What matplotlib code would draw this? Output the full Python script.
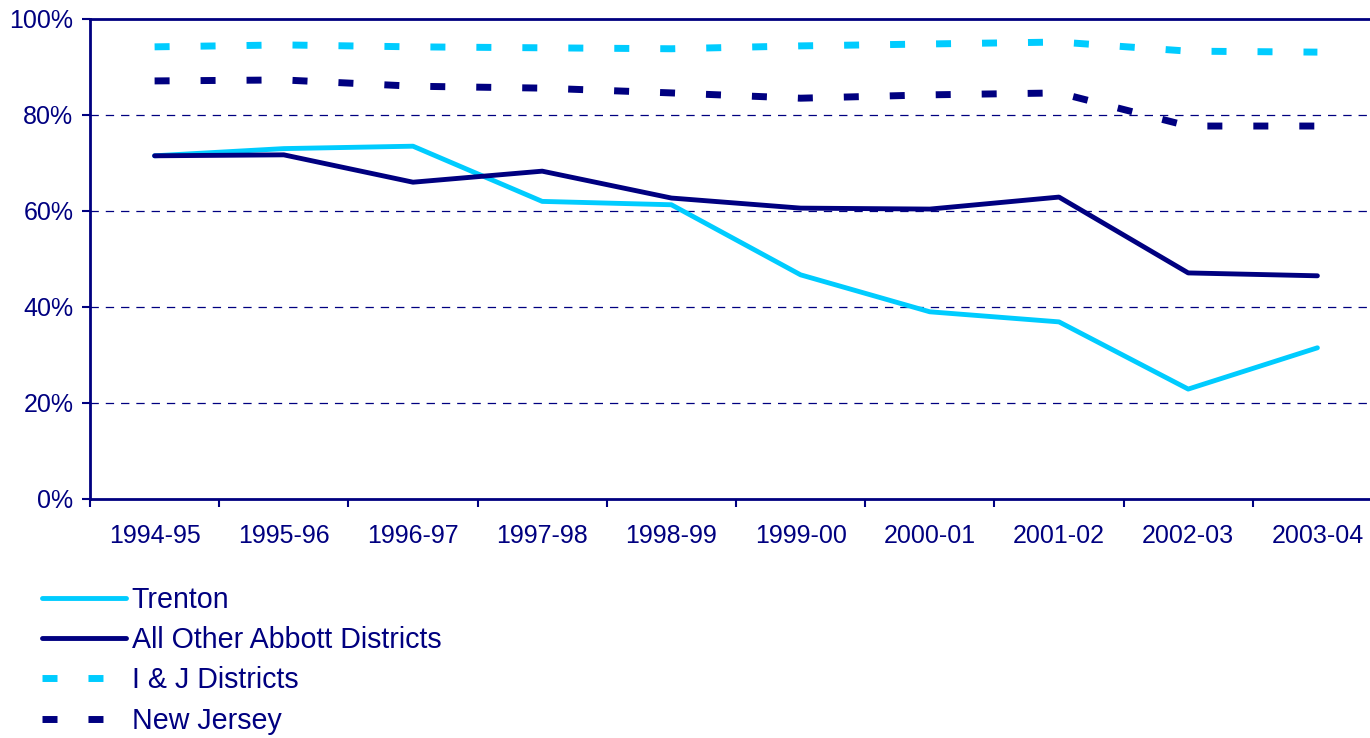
import matplotlib.pyplot as plt
import matplotlib.ticker as mticker

plt.rcParams['font.family'] = ['Liberation Sans', 'DejaVu Sans']
plt.rcParams['lines.scale_dashes'] = False

years = ['1994-95', '1995-96', '1996-97', '1997-98', '1998-99',
         '1999-00', '2000-01', '2001-02', '2002-03', '2003-04']
trenton = [71.5, 73.0, 73.5, 62.0, 61.3, 46.7, 39.0, 36.9, 22.9, 31.5]
abbott = [71.5, 71.7, 66.0, 68.3, 62.7, 60.6, 60.4, 62.9, 47.1, 46.5]
ij = [94.2, 94.6, 94.2, 94.0, 93.8, 94.4, 94.8, 95.2, 93.3, 93.1]
nj = [87.1, 87.3, 86.0, 85.6, 84.6, 83.5, 84.2, 84.6, 77.7, 77.7]

navy = '#000080'
cyan = '#00CCFF'

fig = plt.figure(figsize=(13.7, 7.38), dpi=100)
ax = fig.add_axes([90 / 1370, 1 - 499 / 738, 1292 / 1370, 480 / 738])

x = range(len(years))
dash = (0, (10.8, 22.3))
ax.plot(x, trenton, color=cyan, lw=3.5, label='Trenton', solid_capstyle='round')
ax.plot(x, abbott, color=navy, lw=3.5, label='All Other Abbott Districts', solid_capstyle='round')
ax.plot(x, ij, color=cyan, lw=5, ls=dash, label='I & J Districts', dash_capstyle='butt')
ax.plot(x, nj, color=navy, lw=5, ls=dash, label='New Jersey', dash_capstyle='butt')

ax.set_xlim(-0.5, len(years) - 0.5)
ax.set_ylim(0, 100)
ax.set_yticks([0, 20, 40, 60, 80, 100])
ax.yaxis.set_major_formatter(mticker.FuncFormatter(lambda v, p: f'{v:.0f}%'))
ax.set_xticks([i + 0.5 for i in range(-1, len(years))])
ax.set_xticklabels([])
ax.set_xticks(list(x), minor=True)
ax.set_xticklabels(years, minor=True)
ax.tick_params(axis='x', which='minor', length=0, pad=18, labelsize=18, labelcolor=navy)
ax.tick_params(axis='x', which='major', length=6, width=1.5, color=navy, direction='out')
ax.tick_params(axis='y', length=6, width=1.5, color=navy, labelsize=18, labelcolor=navy, pad=6)

for y in [20, 40, 60, 80]:
    ax.axhline(y, color=navy, lw=0.9, ls=(0, (6, 5)), zorder=0)

for s in ['left', 'bottom', 'top']:
    ax.spines[s].set_color(navy)
    ax.spines[s].set_linewidth(2)
ax.spines['right'].set_visible(False)

leg = fig.legend(loc='upper left', bbox_to_anchor=(0.022, 0.222), frameon=False,
                 fontsize=20.6, handlelength=2.95, handletextpad=0.2, labelspacing=0.43,
                 borderaxespad=0)
for t in leg.get_texts():
    t.set_color(navy)

fig.savefig('out.png', dpi=100)
